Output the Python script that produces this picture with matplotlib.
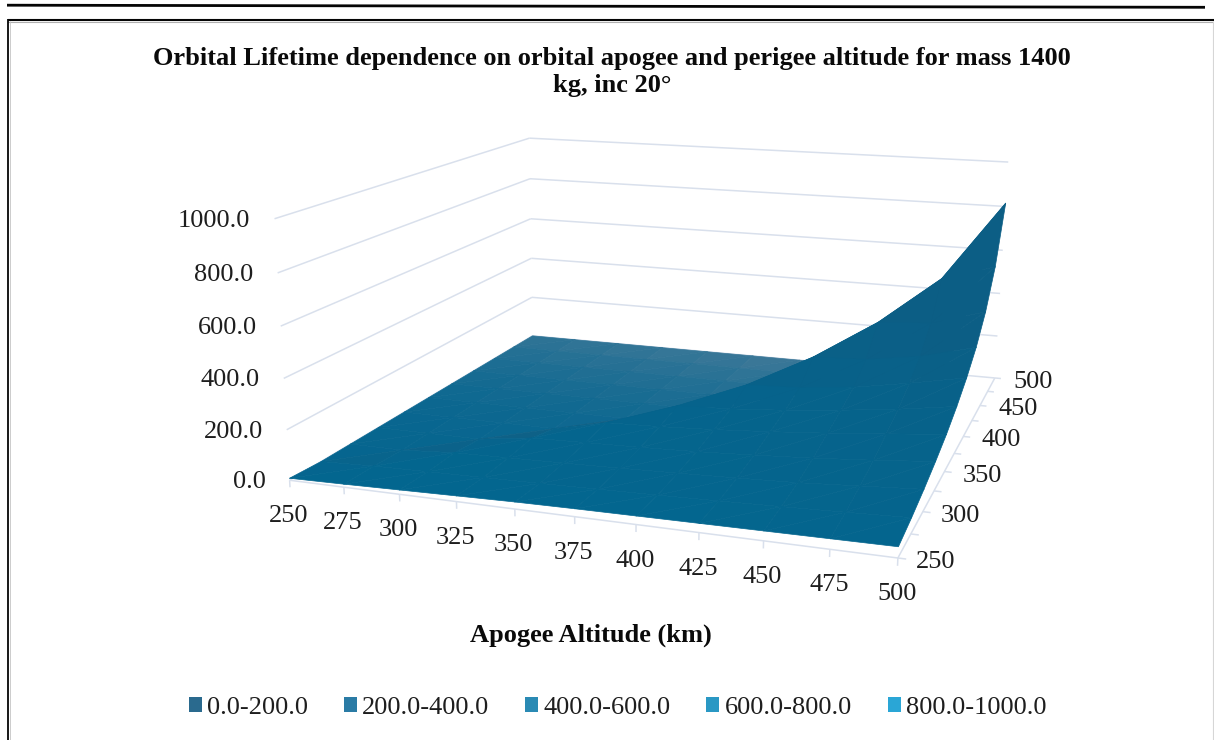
import numpy as np
import matplotlib
matplotlib.use("Agg")
import matplotlib.pyplot as plt
from matplotlib.colors import to_rgb
from matplotlib.lines import Line2D
from matplotlib.patches import Patch
from mpl_toolkits.mplot3d import Axes3D
from mpl_toolkits.mplot3d.art3d import Line3DCollection

plt.rcParams["font.family"] = ["Liberation Serif", "DejaVu Serif"]

TITLE = "Orbital Lifetime dependence on orbital apogee and perigee altitude for mass 1400\nkg, inc 20°"
XLABEL = "Apogee Altitude (km)"

apogee = np.array([250, 275, 300, 325, 350, 375, 400, 425, 450, 475, 500])
perigee = np.array([250, 275, 300, 325, 350, 375, 400, 425, 450, 475, 500])
perigee_labels = [250, 300, 350, 400, 450, 500]
life_ticks = [0, 200, 400, 600, 800, 1000]

# Lifetime by perigee row (250 first) and apogee column; a perigee above the apogee has none.
life_p250 = [8, 12, 17, 22, 27, 30, 32, 34, 36, 38, 40]
life_p275 = [0, 8, 12, 16, 20, 25, 30, 36, 43, 51, 60]
life_p300 = [0, 0, 15, 20, 25, 31, 38, 46, 55, 70, 85]
life_p325 = [0, 0, 0, 30, 36, 42, 50, 62, 76, 94, 115]
life_p350 = [0, 0, 0, 0, 50, 58, 70, 86, 105, 127, 150]
life_p375 = [0, 0, 0, 0, 0, 80, 90, 108, 132, 160, 195]
life_p400 = [0, 0, 0, 0, 0, 0, 130, 140, 165, 205, 250]
life_p425 = [0, 0, 0, 0, 0, 0, 0, 215, 225, 260, 320]
life_p450 = [0, 0, 0, 0, 0, 0, 0, 0, 335, 350, 420]
life_p475 = [0, 0, 0, 0, 0, 0, 0, 0, 0, 500, 570]
life_p500 = [0, 0, 0, 0, 0, 0, 0, 0, 0, 0, 815]
lifetime = np.array([life_p250, life_p275, life_p300, life_p325, life_p350, life_p375,
                     life_p400, life_p425, life_p450, life_p475, life_p500], dtype=float)

bands = ["0.0-200.0", "200.0-400.0", "400.0-600.0", "600.0-800.0", "800.0-1000.0"]
band_colors = ["#2a6a8e", "#2a7ba5", "#2a8ab4", "#2a98c4", "#2aa6d6"]

W, H = 1214, 740

# View frame: box corners (apogee, perigee, lifetime) and where they sit on the canvas.
VIEW_CORNERS = [(250, 250, 0), (500, 250, 0), (500, 500, 0), (250, 500, 0),
                (250, 250, 1000), (250, 500, 1000), (500, 500, 1000)]
VIEW_PIXELS = [(290, 480), (898, 558), (995, 378), (532, 336),
               (274, 219), (530, 138), (1008, 162)]


def fit_view(corners, pixels):
    rows, rhs = [], []
    for (a, p, z), (px, py) in zip(corners, pixels):
        X = [a, p, z, 1.0]
        rows.append(X + [0, 0, 0, 0] + [-px * c for c in X[:3]])
        rhs.append(px)
        rows.append([0, 0, 0, 0] + X + [-py * c for c in X[:3]])
        rhs.append(py)
    rows = np.array(rows, dtype=float)
    scale = np.abs(rows).max(axis=0)
    sol = np.linalg.lstsq(rows / scale, np.array(rhs, dtype=float), rcond=None)[0] / scale
    return sol[:4], sol[4:8], np.r_[sol[8:11], 1.0]


VIEW_X, VIEW_Y, VIEW_W = fit_view(VIEW_CORNERS, VIEW_PIXELS)


def to_pixel(a, p, z):
    X = np.array([a, p, z, 1.0])
    w = VIEW_W @ X
    return (VIEW_X @ X) / w, (VIEW_Y @ X) / w


class FramedAxes3D(Axes3D):
    """3D axes whose projection is fitted to a fixed view frame on the canvas."""

    def apply_aspect(self, position=None):
        pass

    def get_proj(self):
        depth = np.array([-0.5, 1.0, 0.0, 0.0]) * 1e-3
        to_display = np.array([VIEW_X, H * VIEW_W - VIEW_Y, depth, VIEW_W])
        inv = self.transData.inverted().get_matrix()
        to_limits = np.eye(4)
        to_limits[0, [0, 1, 3]] = inv[0]
        to_limits[1, [0, 1, 3]] = inv[1]
        return to_limits @ to_display


fig = plt.figure(figsize=(W / 100, H / 100), dpi=100, facecolor="white")
ax = FramedAxes3D(fig, [0, 0, 1, 1], computed_zorder=False)
fig.add_axes(ax)
ax.set_axis_off()
ax.patch.set_visible(False)


def fx(x):
    return x / W


def fy(y):
    return 1 - y / H


def page_line(x0, y0, x1, y1, color, lw):
    fig.add_artist(Line2D([fx(x0), fx(x1)], [fy(y0), fy(y1)], color=color, lw=lw, solid_capstyle="butt"))


# Page rule and chart border
page_line(7, 5.2, 1205, 7.3, "#050505", 2.0)
page_line(8, 19.8, 1214, 19.8, "#050505", 1.5)
page_line(8, 21.6, 1214, 21.6, "#b0b0b0", 0.8)
page_line(8, 19, 8, 740, "#050505", 1.3)
page_line(9.6, 21, 9.6, 740, "#c4c4c4", 0.6)
page_line(1213, 21, 1213, 740, "#d6d6d6", 0.8)

# Wall gridlines, floor edges and axis ticks
GRID = "#d9e0ec"
segments = []
for z in life_ticks:
    segments.append([(250, 250, z), (250, 500, z)])
    segments.append([(250, 500, z), (500, 500, z)])
segments.append([(250, 250, 0), (500, 250, 0)])
segments.append([(500, 250, 0), (500, 500, 0)])
for a in apogee:
    segments.append([(a, 250, 0), (a, 250, -28)])
for p in perigee:
    segments.append([(500, p, 0), (503, p, 0)])
ax.add_collection3d(Line3DCollection(segments, colors=GRID, linewidths=1.1, zorder=1))

# Surface triangles, split along the apogee = perigee ridge and shaded by facing
FRONT = np.array(to_rgb("#05658f"))
BACK = np.array(to_rgb("#4a7d9a"))
NORTH = np.array(to_rgb("#185c7e"))
LOWER = np.array(to_rgb("#03668f"))
STEEP = np.array(to_rgb("#0c5e85"))
n = len(apogee)
flat_z = lifetime.ravel()
triangles, colors = [], []
for i in range(n - 1):
    for j in range(n - 1):
        v00, v01, v10, v11 = i * n + j, i * n + j + 1, (i + 1) * n + j, (i + 1) * n + j + 1
        for tri, side in (((v00, v01, v11), "se"), ((v00, v11, v10), "nw")):
            triangles.append(tri)
            row = np.mean([t // n for t in tri]) / (n - 1)
            col = np.mean([t % n for t in tri]) / (n - 1)
            if j > i or (j == i and side == "se"):
                rise = np.ptp(flat_z[list(tri)]) / 150.0
                colors.append(LOWER + (STEEP - LOWER) * min(1.0, rise))
            elif j == i - 1 and side == "se":
                colors.append(FRONT + (NORTH - FRONT) * min(1.0, 0.15 * i))
            elif j == i and side == "nw":
                colors.append(FRONT + (NORTH - FRONT) * min(1.0, 0.05 * i))
            else:
                t = min(1.0, (row ** 2.4) * (0.62 + 0.38 * col / max(row, 1e-6)))
                colors.append(FRONT + (BACK - FRONT) * t)
A, P = np.meshgrid(apogee, perigee)
surface = ax.plot_trisurf(A.ravel(), P.ravel(), flat_z, triangles=triangles, shade=False,
                          linewidth=0.5, antialiased=True, zorder=3)
surface.set_facecolor(np.array(colors))
surface.set_edgecolor(np.array(colors))

# Tick labels, placed from the projected axis positions
INK = "#1e1e1e"
TEXT_SIZE = 19
for a in apogee:
    x, y = to_pixel(a, 250, 0)
    fig.text(fx(x - 1), fy(y + 36), str(a), ha="center", va="center", fontsize=TEXT_SIZE, color=INK)
for p in perigee_labels:
    x, y = to_pixel(500, p, 0)
    fig.text(fx(x + 38), fy(y + 4), str(p), ha="center", va="center", fontsize=TEXT_SIZE, color=INK)
for z in life_ticks:
    x, y = to_pixel(250, 250, z)
    fig.text(fx(x - 24), fy(y + 2), f"{z:.1f}", ha="right", va="center", fontsize=TEXT_SIZE, color=INK)

fig.text(fx(612), fy(72), TITLE, ha="center", va="center", fontsize=TEXT_SIZE, fontweight="bold",
         color="#0a0a0a", linespacing=1.27)
fig.text(fx(591), fy(635), XLABEL, ha="center", va="center", fontsize=TEXT_SIZE, fontweight="bold", color="#0a0a0a")

handles = [Patch(facecolor=c, edgecolor="none") for c in band_colors]
fig.legend(handles, bands, loc="center", bbox_to_anchor=(fx(617.5), fy(708)), ncol=5, frameon=False,
           fontsize=TEXT_SIZE, labelcolor=INK, handlelength=0.5, handleheight=0.5,
           handletextpad=0.2, columnspacing=1.35)

fig.savefig("out.png", dpi=100)
